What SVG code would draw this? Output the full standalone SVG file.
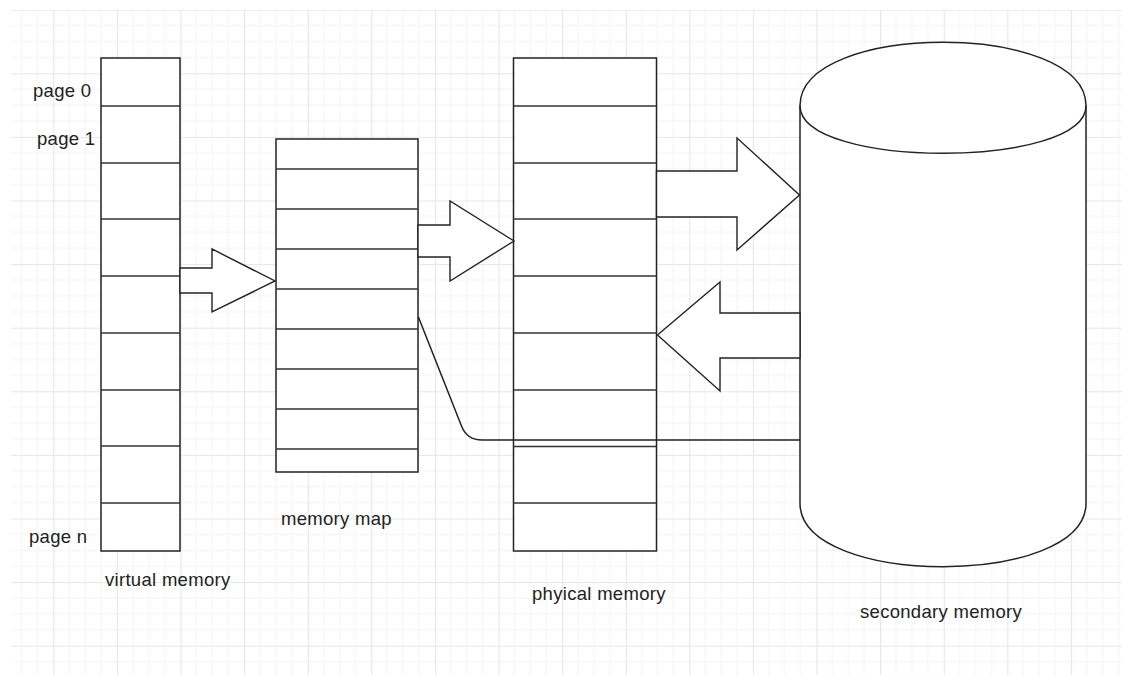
<svg xmlns="http://www.w3.org/2000/svg" width="1122" height="675" viewBox="0 0 1122 675">
  <defs>
    <pattern id="grid" patternUnits="userSpaceOnUse" x="-10.3" y="9.7" width="63.6" height="63.6">
      <path d="M15.9,0V63.6M31.8,0V63.6M47.7,0V63.6M0,15.9H63.6M0,31.8H63.6M0,47.7H63.6" stroke="#f3f3f3" stroke-width="1" fill="none"/>
      <path d="M0.5,0V63.6M0,0.5H63.6" stroke="#e6e6e6" stroke-width="1.2" fill="none"/>
    </pattern>
    <style>
      .box { fill: #ffffff; stroke: #222222; stroke-width: 1.5; }
      .row { stroke: #333333; stroke-width: 1.5; fill: none; }
      .arrow { fill: #ffffff; stroke: #222222; stroke-width: 1.4; stroke-linejoin: miter; }
      .edge { fill: none; stroke: #222222; stroke-width: 1.5; }
      .lbl { font-family: "Liberation Sans", Arial, sans-serif; font-size: 18.5px; letter-spacing: 0.3px; fill: #222222; }
    </style>
  </defs>
  <rect x="0" y="0" width="1122" height="675" fill="#ffffff"/>
  <rect x="11" y="10" width="1111" height="665" fill="url(#grid)"/>

  <g id="virtual-memory">
    <rect class="box" x="101" y="58" width="79" height="493"/>
    <path class="row" d="M101,106H180M101,163H180M101,219H180M101,276H180M101,333H180M101,390H180M101,446H180M101,503H180"/>
    <text class="lbl" x="33" y="97">page 0</text>
    <text class="lbl" x="37" y="145">page 1</text>
    <text class="lbl" x="29" y="543">page n</text>
    <text class="lbl" x="105" y="586">virtual memory</text>
  </g>

  <g id="memory-map">
    <rect class="box" x="276" y="139" width="142" height="333"/>
    <path class="row" d="M276,169H418M276,209H418M276,249H418M276,289H418M276,329H418M276,369H418M276,409H418M276,449H418"/>
    <text class="lbl" x="281" y="525">memory map</text>
  </g>

  <g id="physical-memory">
    <rect class="box" x="513.5" y="58" width="143" height="493"/>
    <path class="row" d="M513.5,106H656.5M513.5,163H656.5M513.5,219H656.5M513.5,276H656.5M513.5,333H656.5M513.5,390H656.5M513.5,446.5H656.5M513.5,503H656.5"/>
    <text class="lbl" x="532" y="600">phyical memory</text>
  </g>

  <g id="secondary-memory">
    <path class="box" d="M800,105.7C800,21.2 1086,21.2 1086,105.7L1086,503.3C1086,587.8 800,587.8 800,503.3Z"/>
    <path class="edge" d="M800,105.7C800,169.1 1086,169.1 1086,105.7"/>
    <text class="lbl" x="860" y="618">secondary memory</text>
  </g>

  <g id="connectors">
    <polygon class="arrow" points="180,268 212,268 212,249 275,281 212,312 212,293 180,293"/>
    <polygon class="arrow" points="418,225 450,225 450,201 514,241 450,281 450,257 418,257"/>
    <polygon class="arrow" points="656.5,171 737,171 737,138 799.5,195 737,250 737,217 656.5,217"/>
    <polygon class="arrow" points="800,313 720,313 720,282 657.5,335 720,391 720,358 800,358"/>
    <path class="edge" d="M418.3,316.7L461.5,426Q467,440 482,440L800,440"/>
  </g>
</svg>
